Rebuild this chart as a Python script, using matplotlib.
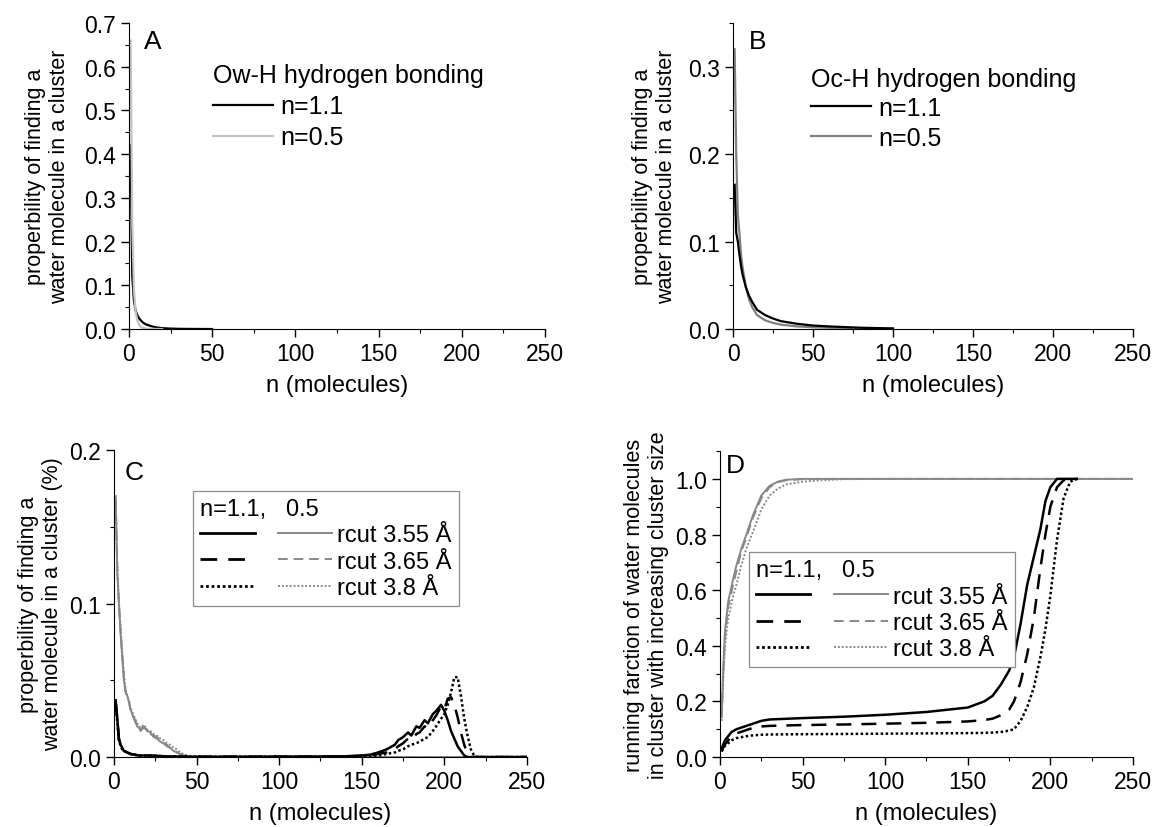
import matplotlib.pyplot as plt
from matplotlib.ticker import MultipleLocator

plt.rcParams['font.family'] = ['Liberation Sans', 'DejaVu Sans']
plt.rcParams['font.size'] = 16

# Panel A: Ow-H hydrogen bonding
a_n_black = [1, 2, 3, 4, 5, 6, 8, 10, 13, 16, 20, 25, 30, 40, 50]
a_black = [0.42, 0.12, 0.065, 0.042, 0.032, 0.025, 0.016, 0.011, 0.007, 0.004, 0.002,
           0.001, 0.0005, 0.0002, 0.0]
a_n_gray = [1, 2, 3, 4, 5, 6, 7, 8, 10, 12, 20]
a_gray = [0.66, 0.24, 0.09, 0.04, 0.02, 0.01, 0.005, 0.003, 0.001, 0.0005, 0.0]

# Panel B: Oc-H hydrogen bonding
b_n = [1, 2, 3, 4, 5, 6, 8, 10, 12, 15, 20, 25, 30, 40, 50, 60, 80, 100]
b_black = [0.165, 0.11, 0.1, 0.085, 0.072, 0.062, 0.048, 0.038, 0.031, 0.022, 0.016,
           0.012, 0.009, 0.006, 0.004, 0.003, 0.0015, 0.0007]
b_gray = [0.32, 0.2, 0.13, 0.11, 0.085, 0.07, 0.048, 0.034, 0.025, 0.016, 0.01,
          0.007, 0.005, 0.003, 0.002, 0.0015, 0.0008, 0.0003]

# Panel C: cluster size distributions, three cutoffs
c_n_gray = [1, 2, 3, 4, 5, 6, 7, 8, 9, 10, 12, 14, 16, 18, 20, 22, 24, 26, 28, 30,
            32, 34, 36, 38, 40, 42, 45, 50, 100, 150, 200, 250]
c_gray_355 = [0.17, 0.12, 0.1, 0.08, 0.065, 0.05, 0.042, 0.04, 0.036, 0.031, 0.025,
              0.02, 0.018, 0.02, 0.017, 0.016, 0.013, 0.012, 0.01, 0.009, 0.007,
              0.006, 0.004, 0.003, 0.002, 0.001, 0.0003, 0, 0, 0, 0, 0]
c_gray_365 = [0.168, 0.125, 0.098, 0.082, 0.066, 0.052, 0.043, 0.039, 0.037, 0.03,
              0.026, 0.021, 0.017, 0.019, 0.018, 0.015, 0.014, 0.013, 0.011, 0.009,
              0.008, 0.006, 0.005, 0.003, 0.002, 0.001, 0.0004, 0, 0, 0, 0, 0]
c_gray_380 = [0.165, 0.122, 0.1, 0.084, 0.068, 0.054, 0.044, 0.04, 0.037, 0.032,
              0.027, 0.022, 0.019, 0.021, 0.018, 0.017, 0.015, 0.014, 0.012, 0.011,
              0.009, 0.008, 0.006, 0.005, 0.003, 0.002, 0.0008, 0, 0, 0, 0, 0]

c_n_black = [1, 2, 3, 4, 5, 6, 8, 10, 15, 20, 30, 40, 60, 80, 100, 120, 140, 150,
             155, 160, 165, 170, 172, 175, 178, 180, 183, 185, 188, 190, 193, 195,
             198, 200, 202, 204, 206, 208, 210, 212, 214, 216, 218, 220, 250]
c_black_355 = [0.037, 0.025, 0.012, 0.008, 0.006, 0.004, 0.003, 0.002, 0.001, 0.001,
               0.0005, 0.0002, 0.0002, 0.0002, 0.0003, 0.0003, 0.0005, 0.001,
               0.0015, 0.003, 0.005, 0.008, 0.011, 0.013, 0.016, 0.014, 0.02, 0.019,
               0.024, 0.022, 0.028, 0.03, 0.034, 0.03, 0.024, 0.017, 0.012, 0.007,
               0.004, 0.001, 0, 0, 0, 0, 0]
c_black_365 = [0.036, 0.024, 0.011, 0.008, 0.005, 0.004, 0.003, 0.002, 0.001, 0.001,
               0.0005, 0.0002, 0.0002, 0.0002, 0.0002, 0.0003, 0.0004, 0.0008,
               0.001, 0.002, 0.003, 0.005, 0.007, 0.009, 0.012, 0.011, 0.015, 0.016,
               0.02, 0.019, 0.024, 0.027, 0.033, 0.031, 0.038, 0.039, 0.034, 0.026,
               0.016, 0.008, 0.002, 0, 0, 0, 0]
c_black_380 = [0.035, 0.023, 0.011, 0.007, 0.005, 0.004, 0.003, 0.002, 0.001, 0.001,
               0.0005, 0.0002, 0.0002, 0.0002, 0.0002, 0.0002, 0.0003, 0.0005,
               0.0007, 0.001, 0.002, 0.003, 0.004, 0.005, 0.007, 0.008, 0.009, 0.01,
               0.012, 0.013, 0.017, 0.02, 0.025, 0.028, 0.034, 0.042, 0.052, 0.052,
               0.04, 0.025, 0.014, 0.005, 0.001, 0, 0]

# Panel D: running fraction
d_n_gray = [1, 2, 3, 5, 8, 10, 13, 16, 20, 25, 30, 35, 40, 50, 60, 75, 100, 150, 200, 250]
d_gray_355 = [0.15, 0.32, 0.45, 0.56, 0.64, 0.69, 0.75, 0.8, 0.87, 0.94, 0.975, 0.99,
              0.997, 1.0, 1.0, 1.0, 1.0, 1.0, 1.0, 1.0]
d_gray_365 = [0.14, 0.3, 0.43, 0.54, 0.62, 0.67, 0.74, 0.79, 0.86, 0.93, 0.97, 0.988,
              0.995, 0.999, 1.0, 1.0, 1.0, 1.0, 1.0, 1.0]
d_gray_380 = [0.13, 0.28, 0.4, 0.5, 0.58, 0.62, 0.69, 0.75, 0.81, 0.89, 0.94, 0.965,
              0.98, 0.99, 0.995, 0.999, 1.0, 1.0, 1.0, 1.0]

d_n_black = [1, 2, 3, 5, 7, 10, 15, 20, 25, 30, 50, 75, 100, 125, 150, 160, 165, 170,
             175, 178, 182, 186, 190, 194, 197, 200, 204, 208, 212, 216]
d_black_355 = [0.03, 0.045, 0.06, 0.075, 0.09, 0.1, 0.11, 0.12, 0.13, 0.135, 0.14,
               0.145, 0.152, 0.162, 0.178, 0.2, 0.22, 0.26, 0.31, 0.36, 0.48, 0.62,
               0.72, 0.82, 0.92, 0.97, 1.0, 1.0, 1.0, 1.0]
d_black_365 = [0.02, 0.035, 0.045, 0.06, 0.075, 0.085, 0.095, 0.105, 0.11, 0.112,
               0.115, 0.117, 0.12, 0.123, 0.128, 0.133, 0.138, 0.15, 0.17, 0.2, 0.27,
               0.37, 0.5, 0.68, 0.8, 0.9, 0.97, 0.995, 1.0, 1.0]
d_black_380 = [0.02, 0.03, 0.04, 0.05, 0.06, 0.068, 0.074, 0.078, 0.08, 0.081, 0.082,
               0.083, 0.084, 0.085, 0.086, 0.087, 0.088, 0.09, 0.095, 0.1, 0.13, 0.18,
               0.25, 0.36, 0.46, 0.58, 0.78, 0.93, 0.99, 1.0]

xlabel = 'n (molecules)'
ylabel_ab = 'properbility of finding a\nwater molecule in a cluster'
ylabel_c = 'properbility of finding a\nwater molecule in a cluster (%)'
ylabel_d = 'running farction of water molecules\nin cluster with increasing cluster size'
rcut_labels = ['rcut 3.55 Å', 'rcut 3.65 Å', 'rcut 3.8 Å']

fig = plt.figure(figsize=(11.68, 8.28), dpi=100)
axA = fig.add_axes([0.1104, 0.6014, 0.3562, 0.3696])
axB = fig.add_axes([0.6276, 0.6014, 0.3424, 0.3696])
axC = fig.add_axes([0.0976, 0.0845, 0.3536, 0.3708])
axD = fig.add_axes([0.6164, 0.0845, 0.3536, 0.3695])


def style(ax, ymax, ymajor):
    ax.spines['top'].set_visible(False)
    ax.spines['right'].set_visible(False)
    ax.set_xlim(0, 250)
    ax.set_ylim(0, ymax)
    ax.xaxis.set_major_locator(MultipleLocator(50))
    ax.xaxis.set_minor_locator(MultipleLocator(25))
    ax.yaxis.set_major_locator(MultipleLocator(ymajor))
    ax.yaxis.set_minor_locator(MultipleLocator(ymajor / 2))
    ax.tick_params(which='major', direction='out', length=6, width=1, labelsize=16.5)
    ax.tick_params(which='minor', direction='out', length=3, width=0.8)
    ax.set_xlabel(xlabel, fontsize=17, labelpad=6)


# A
style(axA, 0.7, 0.1)
axA.plot(a_n_black, a_black, color='black', lw=1.6, label='n=1.1')
axA.plot(a_n_gray, a_gray, color='#c4c4c4', lw=1.6, label='n=0.5')
axA.set_ylabel(ylabel_ab, fontsize=15.5, labelpad=10)
axA.text(0.035, 0.94, 'A', transform=axA.transAxes, fontsize=19, va='center')
axA.legend(title='Ow-H hydrogen bonding', loc='upper left',
           bbox_to_anchor=(0.16, 0.925), frameon=False, fontsize=18,
           title_fontsize=18, handlelength=2.4, handletextpad=0.3,
           labelspacing=0.28, borderpad=0.2, alignment='left')

# B
style(axB, 0.35, 0.1)
axB.plot(b_n, b_gray, color='#808080', lw=1.6, label='n=0.5', zorder=2)
axB.plot(b_n, b_black, color='black', lw=1.6, label='n=1.1', zorder=3)
axB.set_ylabel(ylabel_ab, fontsize=15.5, labelpad=8)
axB.text(0.04, 0.94, 'B', transform=axB.transAxes, fontsize=19, va='center')
hB, lB = axB.get_legend_handles_labels()
axB.legend(hB[::-1], lB[::-1], title='Oc-H hydrogen bonding', loc='upper left',
           bbox_to_anchor=(0.15, 0.915), frameon=False, fontsize=18,
           title_fontsize=18, handlelength=2.4, handletextpad=0.3,
           labelspacing=0.22, borderpad=0.2, alignment='left')

styles = ['-', (0, (5, 3)), (0, (1, 1))]
black_styles = ['-', (0, (6, 4)), (0, (1, 1))]


def rcut_legend(ax, anchor):
    handles = []
    labels = []
    for ls in black_styles:
        handles.append(plt.Line2D([], [], color='black', lw=2, linestyle=ls))
        labels.append('')
    for ls, lab in zip(styles, rcut_labels):
        handles.append(plt.Line2D([], [], color='#888888', lw=1.4, linestyle=ls))
        labels.append(lab)
    leg = ax.legend(handles, labels, ncol=2, title='n=1.1,   0.5', loc='upper left',
                    bbox_to_anchor=anchor, fontsize=17, title_fontsize=17,
                    handlelength=2.3, handletextpad=0.2, columnspacing=0.8,
                    labelspacing=0.18, borderpad=0.3, fancybox=False,
                    edgecolor='#8c8c8c', framealpha=1, alignment='left')
    leg.get_frame().set_linewidth(0.9)


# C
style(axC, 0.2, 0.1)
for ys, ls in zip([c_gray_355, c_gray_365, c_gray_380], styles):
    axC.plot(c_n_gray, ys, color='#888888', lw=1.4, linestyle=ls)
for ys, ls in zip([c_black_355, c_black_365, c_black_380], black_styles):
    axC.plot(c_n_black, ys, color='black', lw=1.8, linestyle=ls)
axC.set_ylabel(ylabel_c, fontsize=15.5)
axC.text(0.025, 0.93, 'C', transform=axC.transAxes, fontsize=19, va='center')
rcut_legend(axC, (0.163, 0.905))

# D
style(axD, 1.1, 0.2)
axD.yaxis.set_minor_locator(MultipleLocator(0.1))
for ys, ls in zip([d_gray_355, d_gray_365, d_gray_380], styles):
    axD.plot(d_n_gray, ys, color='#888888', lw=1.4, linestyle=ls)
for ys, ls in zip([d_black_355, d_black_365, d_black_380], black_styles):
    axD.plot(d_n_black, ys, color='black', lw=1.8, linestyle=ls)
axD.set_ylabel(ylabel_d, fontsize=15.5)
axD.text(0.015, 0.955, 'D', transform=axD.transAxes, fontsize=19, va='center')
rcut_legend(axD, (0.042, 0.708))

fig.savefig('out.png', dpi=100)
